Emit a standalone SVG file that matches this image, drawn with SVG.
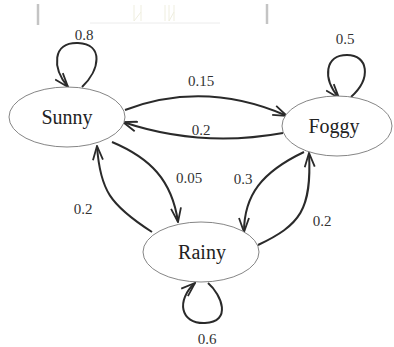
<svg xmlns="http://www.w3.org/2000/svg" width="394" height="347" viewBox="0 0 394 347">
<style>
.node{fill:#fff;stroke:#777;stroke-width:0.9}
.nlab{font-family:'Liberation Serif','DejaVu Serif',serif;font-size:20px;fill:#222;text-anchor:middle}
.elab{font-family:'Liberation Serif','DejaVu Serif',serif;font-size:15px;fill:#333;text-anchor:middle}
.edge{fill:none;stroke:#2a2a2a;stroke-width:2;marker-end:url(#arr)}
.scan{fill:none}
</style>
<defs>
<marker id="arr" viewBox="0 0 16 12" refX="15" refY="6" markerWidth="16" markerHeight="12" markerUnits="userSpaceOnUse" orient="auto">
<path d="M1,1 L15,6 L1,11" fill="none" stroke="#2a2a2a" stroke-width="1.8"/>
</marker>
</defs>
<rect width="394" height="347" fill="#fff"/>
<g id="scan-artifacts">
<line class="scan" x1="38" y1="4" x2="38" y2="25" stroke="#c4c4c4" stroke-width="2.5"/>
<line class="scan" x1="267" y1="4" x2="267" y2="24" stroke="#c4c4c4" stroke-width="2.5"/>
<line class="scan" x1="90" y1="23" x2="220" y2="23" stroke="#ececec" stroke-width="1"/>
<path class="scan" d="M134,5 L134,21 L141,12 M141,5 L141,21 M165,5 L165,21 M169,5 L169,21 L174,12 M174,5 L174,21" stroke="#efeedf" stroke-width="1"/>
</g>
<g id="connectors">
<path class="edge" d="M125,110 Q205,80 287,116"/>
<path class="edge" d="M283,133 Q200,148 123,122"/>
<path class="edge" d="M112,142 C150,158 172,180 178,222"/>
<path class="edge" d="M152,232 C110,205 100,190 97,146"/>
<path class="edge" d="M304,152 C262,172 244,195 244,232"/>
<path class="edge" d="M258,245 C300,225 312,210 309,153"/>
<path class="edge" d="M82,87 C100,70 104,44 78,43 C52,42 52,68 68,87"/>
<path class="edge" d="M351,97 C372,78 368,55 347,55 C325,55 322,78 339,98"/>
<path class="edge" d="M208,283 C222,295 232,322 205,323 C180,324 176,300 195,283"/>
<text class="elab" font-family="Liberation Serif" x="84" y="40">0.8</text>
<text class="elab" font-family="Liberation Serif" x="345" y="44">0.5</text>
<text class="elab" font-family="Liberation Serif" x="207" y="344">0.6</text>
<text class="elab" font-family="Liberation Serif" x="201" y="86">0.15</text>
<text class="elab" font-family="Liberation Serif" x="201" y="135">0.2</text>
<text class="elab" font-family="Liberation Serif" x="189" y="183">0.05</text>
<text class="elab" font-family="Liberation Serif" x="83" y="214">0.2</text>
<text class="elab" font-family="Liberation Serif" x="243" y="184">0.3</text>
<text class="elab" font-family="Liberation Serif" x="322" y="226">0.2</text>
</g>
<g id="sunny">
<ellipse class="node" cx="67" cy="117" rx="58" ry="30"/>
<text class="nlab" font-family="Liberation Serif" x="67" y="124">Sunny</text>
</g>
<g id="foggy">
<ellipse class="node" cx="337" cy="126" rx="55" ry="30"/>
<text class="nlab" font-family="Liberation Serif" x="334" y="133">Foggy</text>
</g>
<g id="rainy">
<ellipse class="node" cx="201" cy="252" rx="58" ry="30"/>
<text class="nlab" font-family="Liberation Serif" x="202" y="259">Rainy</text>
</g>
</svg>
